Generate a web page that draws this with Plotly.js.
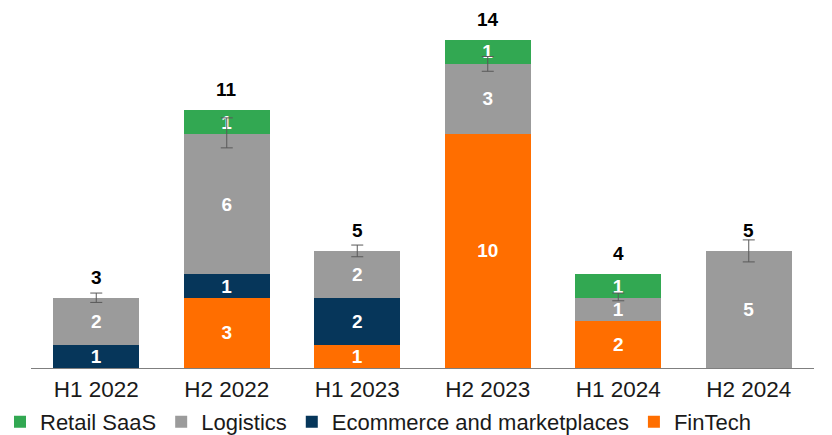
<!DOCTYPE html>
<html>
<head>
<meta charset="utf-8">
<script src="https://cdn.plot.ly/plotly-3.0.1.min.js"></script>
<style>html,body{margin:0;padding:0;background:#fff;}#chart{width:832px;height:435px;}</style>
</head>
<body>
<div id="chart"></div>
<script>
// ---- data ----
var periods = ["H1 2022", "H2 2022", "H1 2023", "H2 2023", "H1 2024", "H2 2024"];
var fintech   = [0, 3, 1, 10, 2, 0];
var ecommerce = [1, 1, 2, 0, 0, 0];
var logistics = [2, 6, 2, 3, 1, 5];
var retailSaas = [0, 1, 0, 1, 1, 0];
var errPlus  = [0.2, 0.68, 0.25, 0.3, 0.2, 0.47];
var errMinus = [0.2, 0.6, 0.25, 0.33, 0.13, 0.47];

var FONT = "Liberation Sans, Arial, sans-serif";
function yv(a){ return a.map(function(v){ return v ? v : null; }); }
function tv(a){ return a.map(function(v){ return v ? String(v) : ""; }); }

function barTrace(name, vals, color){
  return {
    type: "bar", name: name, x: periods, y: yv(vals), text: tv(vals),
    textposition: "inside", insidetextanchor: "middle", constraintext: "none",
    textangle: 0,
    textfont: {family: FONT, size: 19, color: "#ffffff", weight: 700},
    marker: {color: color, line: {width: 0}},
    hoverinfo: "skip"
  };
}

var traces = [
  barTrace("FinTech", fintech, "#ff6e00"),
  barTrace("Ecommerce and marketplaces", ecommerce, "#06365a"),
  barTrace("Logistics", logistics, "#9b9b9b"),
  barTrace("Retail SaaS", retailSaas, "#32a852")
];

var logTop = periods.map(function(p, i){ return fintech[i] + ecommerce[i] + logistics[i]; });
traces.push({
  type: "scatter", mode: "markers", x: periods, y: logTop, showlegend: false,
  marker: {size: 1, opacity: 0}, hoverinfo: "skip",
  error_y: {type: "data", symmetric: false, array: errPlus, arrayminus: errMinus,
            color: "#595959", thickness: 1, width: 6}
});

var totals = periods.map(function(p, i){ return fintech[i] + ecommerce[i] + logistics[i] + retailSaas[i]; });
var annotations = periods.map(function(p, i){
  return {x: p, y: totals[i], xref: "x", yref: "y", text: String(totals[i]),
          showarrow: false, yanchor: "bottom", yshift: 8,
          font: {family: FONT, size: 19, color: "#000000", weight: 700}};
});

var layout = {
  width: 832, height: 435,
  margin: {l: 31, r: 18, t: 5, b: 67},
  paper_bgcolor: "#ffffff", plot_bgcolor: "#ffffff",
  barmode: "stack", bargap: 0.34,
  showlegend: true,
  legend: {orientation: "h", traceorder: "reversed",
           xref: "container", x: 0, xanchor: "left",
           yref: "container", y: 0.03, yanchor: "middle",
           font: {family: FONT, size: 22, color: "#1a1a1a"},
           itemwidth: 30, bgcolor: "rgba(0,0,0,0)"},
  xaxis: {type: "category", showline: true, linecolor: "#7f7f7f", linewidth: 1,
          ticks: "", showgrid: false, zeroline: false, ticklabelstandoff: 1,
          tickfont: {family: FONT, size: 22.5, color: "#1a1a1a"}},
  yaxis: {visible: false, range: [0, 15.5], showgrid: false, zeroline: false},
  annotations: annotations,
  font: {family: FONT}
};

Plotly.newPlot("chart", traces, layout, {displayModeBar: false, staticPlot: true});
</script>
</body>
</html>
